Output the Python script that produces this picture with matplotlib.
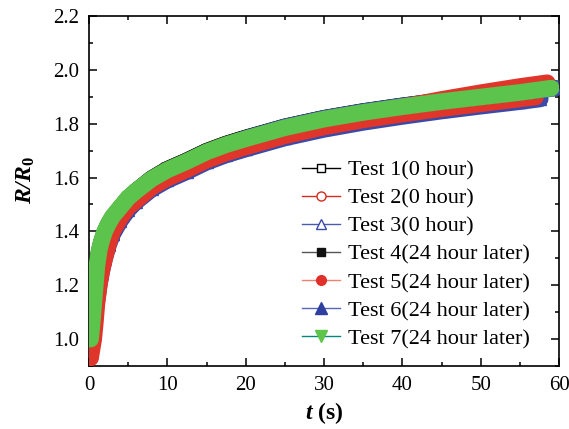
import numpy as np
import matplotlib
matplotlib.use("Agg")
import matplotlib.pyplot as plt
from matplotlib.lines import Line2D

plt.rcParams['font.family'] = ['Liberation Serif', 'DejaVu Serif']
plt.rcParams['mathtext.fontset'] = 'custom'
plt.rcParams['mathtext.rm'] = 'Liberation Serif'
plt.rcParams['mathtext.it'] = 'Liberation Serif:italic'
plt.rcParams['mathtext.bf'] = 'Liberation Serif:bold'
plt.rcParams['mathtext.bfit'] = 'Liberation Serif:italic:bold'

# ---- data ----
t_base = [0.2, 0.4, 0.6, 0.8, 1.0, 1.3, 1.6, 2.0, 2.5, 3.0, 4.0, 5.0, 6.0, 8.0,
          10.0, 12.5, 15.0, 17.5, 20.0, 25.0, 30.0, 35.0, 40.0, 45.0, 50.0, 55.0]

# last sample time of each test
t_end = [57.5, 57.0, 57.6, 58.0, 58.5, 59.5, 59.0]

y1 = [0.98, 1.05, 1.12, 1.19, 1.26, 1.32, 1.36, 1.395, 1.425, 1.45, 1.487, 1.522, 1.548, 1.595,
      1.63, 1.662, 1.697, 1.724, 1.747, 1.788, 1.82, 1.845, 1.866, 1.885, 1.902, 1.919, 1.933]
y2 = [0.96, 0.99, 1.04, 1.10, 1.16, 1.22, 1.27, 1.315, 1.36, 1.40, 1.45, 1.49, 1.515, 1.565,
      1.598, 1.63, 1.665, 1.692, 1.714, 1.755, 1.788, 1.814, 1.836, 1.856, 1.874, 1.892, 1.899]
y3 = [0.97, 1.00, 1.05, 1.11, 1.17, 1.23, 1.275, 1.32, 1.355, 1.39, 1.44, 1.48, 1.51, 1.557,
      1.59, 1.622, 1.657, 1.684, 1.706, 1.747, 1.779, 1.805, 1.827, 1.847, 1.865, 1.882, 1.892]
y4 = [0.99, 1.05, 1.12, 1.19, 1.26, 1.325, 1.36, 1.395, 1.428, 1.452, 1.488, 1.523, 1.549, 1.596,
      1.63, 1.662, 1.697, 1.724, 1.746, 1.787, 1.819, 1.844, 1.865, 1.884, 1.901, 1.918, 1.930]
y5 = [0.93, 0.965, 1.00, 1.06, 1.13, 1.20, 1.25, 1.30, 1.355, 1.40, 1.45, 1.49, 1.515, 1.565,
      1.598, 1.63, 1.665, 1.692, 1.715, 1.758, 1.795, 1.83, 1.862, 1.89, 1.915, 1.938, 1.952]
y6 = [0.98, 1.01, 1.05, 1.10, 1.14, 1.20, 1.25, 1.30, 1.35, 1.39, 1.445, 1.49, 1.525, 1.59,
      1.625, 1.658, 1.693, 1.72, 1.745, 1.788, 1.82, 1.845, 1.866, 1.885, 1.902, 1.918, 1.932]
y7 = [1.00, 1.06, 1.13, 1.20, 1.27, 1.33, 1.365, 1.40, 1.43, 1.455, 1.49, 1.525, 1.55, 1.595,
      1.628, 1.66, 1.695, 1.722, 1.744, 1.785, 1.817, 1.842, 1.863, 1.882, 1.899, 1.916, 1.932]

labels = ['Test 1(0 hour)', 'Test 2(0 hour)', 'Test 3(0 hour)',
          'Test 4(24 hour later)', 'Test 5(24 hour later)',
          'Test 6(24 hour later)', 'Test 7(24 hour later)']

series = [y1, y2, y3, y4, y5, y6, y7]
band_colors = ['#1a1a1a', '#e0352a', '#3a4aa8', '#111111', '#e0352a', '#3a4aa8', '#5cc44c']
line_colors = ['#000000', '#d42a20', '#4a5ab0', '#555555', '#f08070', '#5566bb', '#00897a']
marker_face = ['white', 'white', 'white', '#111111', '#e0302a', '#2e3fa0', '#5ec44a']
marker_edge = ['#000000', '#d42a20', '#3a4aa8', '#111111', '#e0302a', '#2e3fa0', '#5ec44a']
markers = ['s', 'o', '^', 's', 'o', '^', 'v']
msizes = [6, 6.5, 7.5, 6, 7, 8, 8.5]
# stacking order of the bands (which one lies on top)
stack = [2, 3, 1, 4, 6, 5, 7]

fig = plt.figure(figsize=(5.69, 4.29), dpi=100)
ax = fig.add_axes([89/569, 1-366/429, 470/569, 350/429])

for i, ys in enumerate(series):
    tt = t_base + [t_end[i]]
    ax.plot(tt, ys, color=band_colors[i], lw=12, solid_capstyle='round',
            solid_joinstyle='round', marker=markers[i], ms=9,
            mfc=band_colors[i], mec=band_colors[i], zorder=1 + stack[i])

ax.set_xlim(0, 60)
ax.set_ylim(0.9, 2.2)
ax.set_xticks(np.arange(0, 61, 10))
ax.set_xticks(np.arange(0, 61, 5), minor=True)
ax.set_yticks([1.0, 1.2, 1.4, 1.6, 1.8, 2.0, 2.2])
ax.set_yticks(np.arange(0.9, 2.21, 0.1), minor=True)
ax.set_yticklabels(['1.0', '1.2', '1.4', '1.6', '1.8', '2.0', '2.2'])
ax.tick_params(which='both', direction='in', top=True, right=True, width=1.1,
               labelsize=15, pad=7)
ax.tick_params(which='major', length=6)
ax.tick_params(which='minor', length=3)
for s in ax.spines.values():
    s.set_linewidth(1.2)

ax.set_xlabel(r'$\mathbfit{t}$ $\mathbf{(s)}$', fontsize=17, labelpad=4)
ax.set_ylabel(r'$\mathbfit{R/R}_{\mathbf{0}}$', fontsize=17)
ax.yaxis.set_label_coords(-0.11, 0.53)

handles = []
for i in range(7):
    handles.append(Line2D([], [], color=line_colors[i], lw=1, marker=markers[i],
                          ms=msizes[i], mfc=marker_face[i], mec=marker_edge[i]))
ax.legend(handles, labels, loc='upper left', frameon=False, fontsize=16,
          bbox_to_anchor=(302/569, 1-160/429), bbox_transform=fig.transFigure,
          borderpad=0, borderaxespad=0, handlelength=1.7, handletextpad=0.36,
          labelspacing=0.34)

fig.savefig('out.png', dpi=100)
